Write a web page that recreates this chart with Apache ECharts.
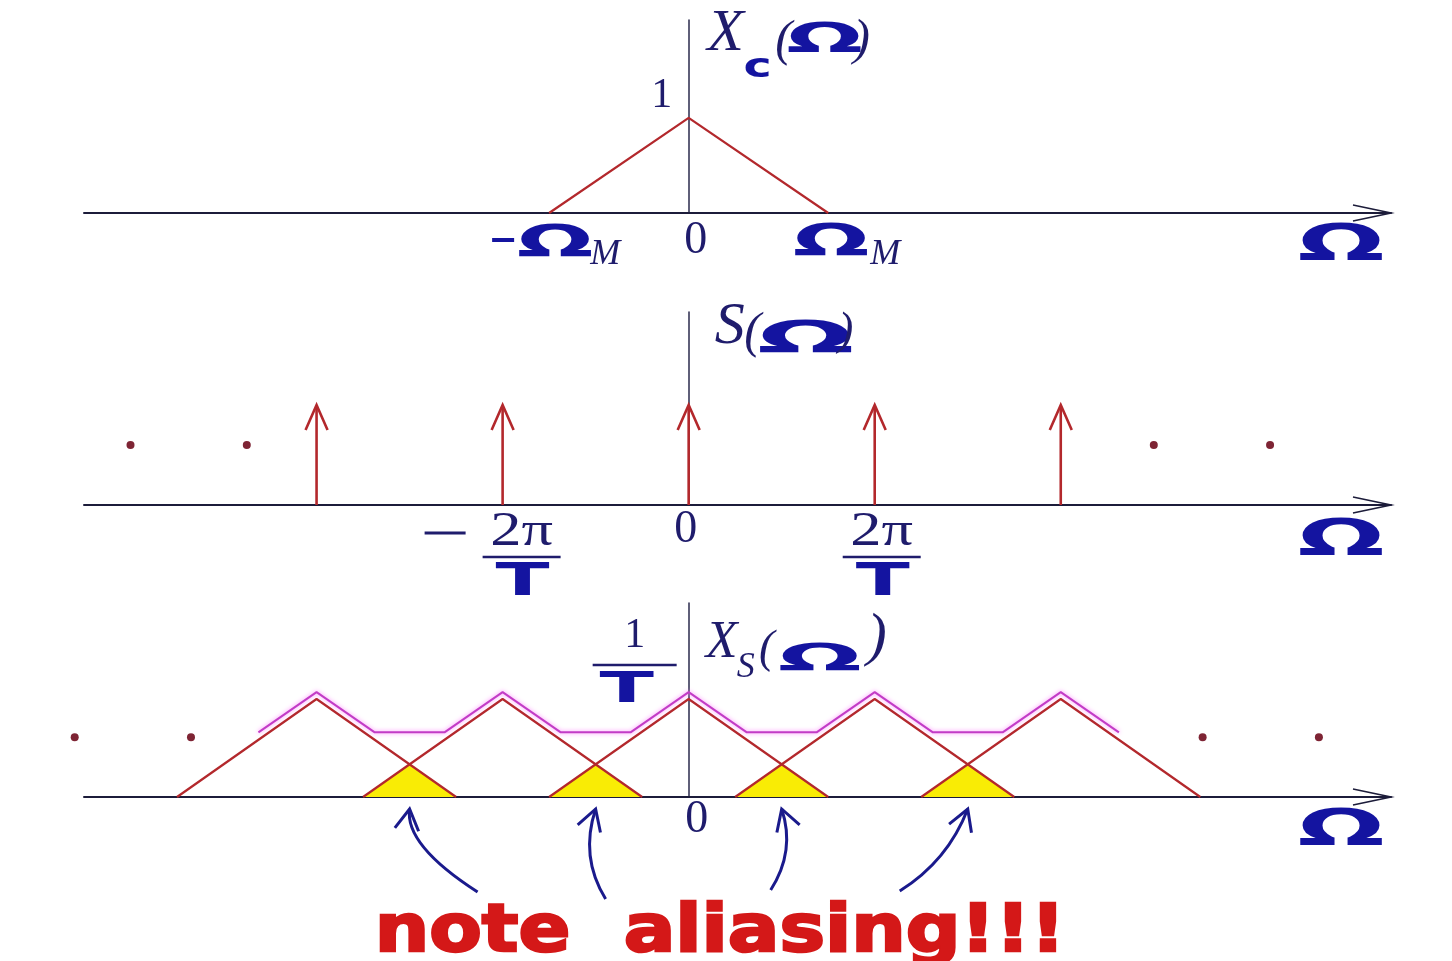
<!DOCTYPE html>
<html>
<head>
<meta charset="utf-8">
<script src="https://cdn.jsdelivr.net/npm/echarts@6/dist/echarts.min.js"></script>
<style>
  html, body { margin: 0; padding: 0; background: #ffffff; }
  #c { width: 1452px; height: 961px; }
</style>
</head>
<body>
<div id="c"></div>
<script>
// Sampling a band-limited spectrum: X_c(Ω), the impulse train S(Ω), and the
// sampled spectrum X_s(Ω) whose replicas overlap (aliasing).
// Frequency unit chosen so that 2π/T = 4 and Ω_M = 3 (Ω_M > π/T).

const omegaS = 4;                       // 2π/T
const omegaM = 3;                       // band limit Ω_M
const xcPeak = 1;                       // X_c(0)
const xcTicks = [-3, 0, 3];             // −Ω_M, 0, Ω_M
const impulseCenters = [-8, -4, 0, 4, 8];
const impulseHeight = 1;
const sTicks = [-4, 0, 4];              // −2π/T, 0, 2π/T
const replicaCenters = [-8, -4, 0, 4, 8];
const replicaPeak = 1;                  // 1/T
const overlapCenters = [-6, -2, 2, 6];
const sumCurveX = [-9.25, -8, -6.75, -5.25, -4, -2.75, -1.25, 0, 1.25, 2.75, 4, 5.25, 6.75, 8, 9.25];
const sumCurveY = [0.66, 1.07, 0.66, 0.66, 1.07, 0.66, 0.66, 1.07, 0.66, 0.66, 1.07, 0.66, 0.66, 1.07, 0.66];
const impulseDotsX = [-12, -9.5, 10, 12.5];
const impulseDotsY = [0.6, 0.6, 0.6, 0.6];
const sampledDotsX = [-13.2, -10.7, 11.05, 13.55];
const sampledDotsY = [0.61, 0.61, 0.61, 0.61];
const xsTicks = [0];
const noteText = 'note  aliasing!!!';

const X_MIN = -13, X_MAX = 15.1;
const Y_MAX = [2.03, 1.93, 1.98];

const NAVY = '#1f1c6c';
const INK = '#1414a0';
const AXIS = '#1c1c3a';
const RED = '#b3282c';
const MAGENTA = '#c23cc6';
const YELLOW = '#f9ec05';
const DOT = '#7e2434';
const NOTE_RED = '#d41818';

const SERIF = '"Liberation Serif", "DejaVu Serif", serif';
const HAND = '"DejaVu Sans", sans-serif';
const serif = (size, italic) => (italic ? 'italic ' : '') + size + 'px ' + SERIF;
const hand = (size) => 'bold ' + size + 'px ' + HAND;

function txt(x, y, text, font, fill, sx) {
  return {
    type: 'text', x: x, y: y, scaleX: sx || 1,
    style: { text: text, font: font, fill: fill, align: 'center', verticalAlign: 'middle' }
  };
}
function seg(x1, y1, x2, y2, stroke, w) {
  return { type: 'line', shape: { x1: x1, y1: y1, x2: x2, y2: y2 }, style: { stroke: stroke, lineWidth: w } };
}
function chevron(points, stroke, w) {
  return { type: 'polyline', shape: { points: points }, style: { stroke: stroke, lineWidth: w, fill: null } };
}
// open arrowhead at the right end of a frequency axis, plus the axis name Ω
function axisEnd(params, api, nameDy) {
  const cs = params.coordSys;
  const R = cs.x + cs.width;
  const y = api.coord([0, 0])[1];
  return [
    chevron([[R - 38, y - 8], [R, y], [R - 38, y + 8]], AXIS, 1.6),
    txt(R - 50, y + nameDy, 'Ω', hand(50), INK, 2.05)
  ];
}

const pairs = (xs, ys) => xs.map((x, i) => [x, ys[i]]);
const triangle = (c, halfWidth, peak) => [[c - halfWidth, 0], [c, peak], [c + halfWidth, 0]];

const xAxes = [0, 1, 2].map(i => ({
  type: 'value', gridIndex: i, min: X_MIN, max: X_MAX,
  axisLine: { show: true, onZero: true, lineStyle: { color: AXIS, width: 2 } },
  axisTick: { show: false }, axisLabel: { show: false }, splitLine: { show: false }
}));
const yAxes = [0, 1, 2].map(i => ({
  type: 'value', gridIndex: i, min: 0, max: Y_MAX[i],
  axisLine: { show: true, onZero: true, lineStyle: { color: '#2a2a4c', width: 1.5 } },
  axisTick: { show: false }, axisLabel: { show: false }, splitLine: { show: false }
}));

const series = [];

// ---------- panel 1: X_c(Ω) ----------
series.push({
  type: 'line', xAxisIndex: 0, yAxisIndex: 0, z: 3,
  data: triangle(0, omegaM, xcPeak),
  showSymbol: false, lineStyle: { color: RED, width: 2.2 }
});
series.push({
  type: 'custom', xAxisIndex: 0, yAxisIndex: 0, z: 4,
  data: xcTicks.map(v => [v, 0]),
  renderItem: function (params, api) {
    const v = api.value(0);
    const p = api.coord([v, 0]);
    const ch = [];
    if (v === 0) {
      ch.push(txt(p[0] + 7, p[1] + 28, '0', serif(46), NAVY));
    } else if (v < 0) {
      ch.push(seg(p[0] - 57, p[1] + 27, p[0] - 35, p[1] + 27, INK, 4));
      ch.push(txt(p[0] + 6, p[1] + 33, 'Ω', hand(44), INK, 2.05));
      ch.push(txt(p[0] + 56, p[1] + 42, 'M', serif(36, true), NAVY));
    } else {
      ch.push(txt(p[0] + 3, p[1] + 32, 'Ω', hand(44), INK, 2.05));
      ch.push(txt(p[0] + 57, p[1] + 42, 'M', serif(36, true), NAVY));
    }
    return { type: 'group', children: ch };
  }
});
series.push({
  type: 'custom', xAxisIndex: 0, yAxisIndex: 0, z: 4,
  data: [[0, xcPeak]],
  renderItem: function (params, api) {
    const p = api.coord([0, api.value(1)]);
    const top = params.coordSys.y;
    const ax = p[0];
    const ch = [
      txt(p[0] - 27, p[1] - 22, '1', serif(42), NAVY),
      txt(ax + 37, top + 14, 'X', serif(60, true), NAVY),
      txt(ax + 69, top + 48, 'c', hand(34), INK, 1.4),
      txt(ax + 95, top + 22, '(', serif(50, true), NAVY),
      txt(ax + 136, top + 21, 'Ω', hand(41), INK, 2.2),
      txt(ax + 173, top + 21, ')', serif(50, true), NAVY)
    ].concat(axisEnd(params, api, 33));
    return { type: 'group', children: ch };
  }
});

// ---------- panel 2: S(Ω) ----------
series.push({
  type: 'custom', xAxisIndex: 1, yAxisIndex: 1, z: 3,
  data: impulseCenters.map(c => [c, impulseHeight]),
  renderItem: function (params, api) {
    const b = api.coord([api.value(0), 0]);
    const t = api.coord([api.value(0), api.value(1)]);
    return {
      type: 'group', children: [
        seg(b[0], b[1], t[0], t[1] + 1, RED, 2.6),
        chevron([[t[0] - 11, t[1] + 25], [t[0], t[1]], [t[0] + 11, t[1] + 25]], RED, 2.6)
      ]
    };
  }
});
series.push({
  type: 'scatter', xAxisIndex: 1, yAxisIndex: 1, clip: false, z: 3,
  data: pairs(impulseDotsX, impulseDotsY),
  symbolSize: 8, itemStyle: { color: DOT, opacity: 1 }
});
series.push({
  type: 'custom', xAxisIndex: 1, yAxisIndex: 1, z: 4,
  data: sTicks.map(v => [v, 0]),
  renderItem: function (params, api) {
    const v = api.value(0);
    const p = api.coord([v, 0]);
    const ch = [];
    if (v === 0) {
      ch.push(txt(p[0] - 3, p[1] + 25, '0', serif(46), NAVY));
    } else {
      const neg = v < 0;
      const cx = p[0] + (neg ? 19 : 7);
      if (neg) ch.push(seg(p[0] - 78, p[1] + 28, p[0] - 37, p[1] + 28, NAVY, 3));
      ch.push(txt(cx, p[1] + 27, '2π', serif(48), NAVY, 1.3));
      ch.push(seg(cx - 39, p[1] + 52, cx + 39, p[1] + 52, NAVY, 2.5));
      ch.push(txt(cx + 1, p[1] + 79, 'T', hand(44), INK, 1.8));
    }
    return { type: 'group', children: ch };
  }
});
series.push({
  type: 'custom', xAxisIndex: 1, yAxisIndex: 1, z: 4,
  data: [[0, 0]],
  renderItem: function (params, api) {
    const ax = api.coord([0, 0])[0];
    const top = params.coordSys.y;
    const ch = [
      txt(ax + 41, top + 15, 'S', serif(60, true), NAVY),
      txt(ax + 64, top + 22, '(', serif(50, true), NAVY),
      txt(ax + 117, top + 30, 'Ω', hand(44), INK, 2.6),
      txt(ax + 157, top + 20, ')', serif(46, true), NAVY)
    ].concat(axisEnd(params, api, 36));
    return { type: 'group', children: ch };
  }
});

// ---------- panel 3: X_s(Ω) ----------
series.push({
  type: 'custom', xAxisIndex: 2, yAxisIndex: 2, z: 1,
  data: overlapCenters.map(c => [c]),
  renderItem: function (params, api) {
    const o = api.value(0);
    const half = omegaM - omegaS / 2;
    const h = replicaPeak * half / omegaM;
    return {
      type: 'polygon',
      shape: { points: [api.coord([o - half, 0]), api.coord([o, h]), api.coord([o + half, 0])] },
      style: { fill: YELLOW }
    };
  }
});
replicaCenters.forEach(c => {
  series.push({
    type: 'line', xAxisIndex: 2, yAxisIndex: 2, z: 3,
    data: triangle(c, omegaM, replicaPeak),
    showSymbol: false, lineStyle: { color: RED, width: 2.2 }
  });
});
series.push({
  type: 'line', xAxisIndex: 2, yAxisIndex: 2, z: 4,
  data: pairs(sumCurveX, sumCurveY),
  showSymbol: false,
  lineStyle: { color: MAGENTA, width: 2, shadowBlur: 4, shadowColor: 'rgba(255,120,255,0.9)' }
});
series.push({
  type: 'scatter', xAxisIndex: 2, yAxisIndex: 2, clip: false, z: 3,
  data: pairs(sampledDotsX, sampledDotsY),
  symbolSize: 8, itemStyle: { color: DOT, opacity: 1 }
});
series.push({
  type: 'custom', xAxisIndex: 2, yAxisIndex: 2, z: 4,
  data: xsTicks.map(v => [v, 0]),
  renderItem: function (params, api) {
    const p = api.coord([api.value(0), 0]);
    return txt(p[0] + 8, p[1] + 23, '0', serif(46), NAVY);
  }
});
series.push({
  type: 'custom', xAxisIndex: 2, yAxisIndex: 2, z: 4,
  data: [[0, replicaPeak]],
  renderItem: function (params, api) {
    const ax = api.coord([0, 0])[0];
    const top = params.coordSys.y;
    const ch = [
      txt(ax - 54, top + 33, '1', serif(42), NAVY),
      seg(ax - 96, top + 62, ax - 12, top + 62, NAVY, 2.5),
      txt(ax - 62, top + 88, 'T', hand(42), INK, 1.9),
      txt(ax + 33, top + 40, 'X', serif(52, true), NAVY),
      txt(ax + 57, top + 65, 'S', serif(36, true), NAVY),
      txt(ax + 78, top + 47, '(', serif(46, true), NAVY),
      txt(ax + 131, top + 57, 'Ω', hand(38), INK, 2.6),
      txt(ax + 188, top + 35, ')', serif(60, true), NAVY)
    ].concat(axisEnd(params, api, 34));
    return { type: 'group', children: ch };
  }
});
// curved pointers from the caption to each overlap region
const POINTER_SHAPES = [
  { tail: [68, 83], ctrl: [-5, 36] },
  { tail: [10, 90], ctrl: [-16, 48] },
  { tail: [-11, 81], ctrl: [14, 42] },
  { tail: [-68, 82], ctrl: [-20, 52] }
];
series.push({
  type: 'custom', xAxisIndex: 2, yAxisIndex: 2, z: 5,
  data: overlapCenters.map(c => [c, 0]),
  renderItem: function (params, api) {
    const s = POINTER_SHAPES[params.dataIndex];
    const b = api.coord([api.value(0), 0]);
    const tip = [b[0], b[1] + 12];
    const cp = [tip[0] + s.ctrl[0], tip[1] + s.ctrl[1]];
    const tl = [tip[0] + s.tail[0], tip[1] + s.tail[1]];
    let dx = cp[0] - tip[0], dy = cp[1] - tip[1];
    const len = Math.hypot(dx, dy);
    dx /= len; dy /= len;
    const a = Math.PI / 6, L = 24;
    const arm = ang => [tip[0] + L * (dx * Math.cos(ang) - dy * Math.sin(ang)),
                        tip[1] + L * (dx * Math.sin(ang) + dy * Math.cos(ang))];
    return {
      type: 'group', children: [
        { type: 'bezierCurve', shape: { x1: tip[0], y1: tip[1], x2: tl[0], y2: tl[1], cpx1: cp[0], cpy1: cp[1] },
          style: { stroke: '#1a1a8c', lineWidth: 3, fill: null } },
        chevron([arm(a), tip, arm(-a)], '#1a1a8c', 3)
      ]
    };
  }
});

const chart = echarts.init(document.getElementById('c'));
chart.setOption({
  animation: false,
  backgroundColor: '#ffffff',
  grid: [
    { left: 84, right: 61, top: 20, height: 193 },
    { left: 84, right: 61, top: 312, height: 193 },
    { left: 84, right: 61, top: 603, height: 194 }
  ],
  xAxis: xAxes,
  yAxis: yAxes,
  series: series,
  graphic: [{
    type: 'text', x: 720, y: 934, scaleX: 1.16,
    style: {
      text: noteText, font: 'bold 66px "DejaVu Sans", sans-serif', fill: NOTE_RED,
      stroke: NOTE_RED, lineWidth: 2.5, align: 'center', verticalAlign: 'middle'
    }
  }]
});
</script>
</body>
</html>
